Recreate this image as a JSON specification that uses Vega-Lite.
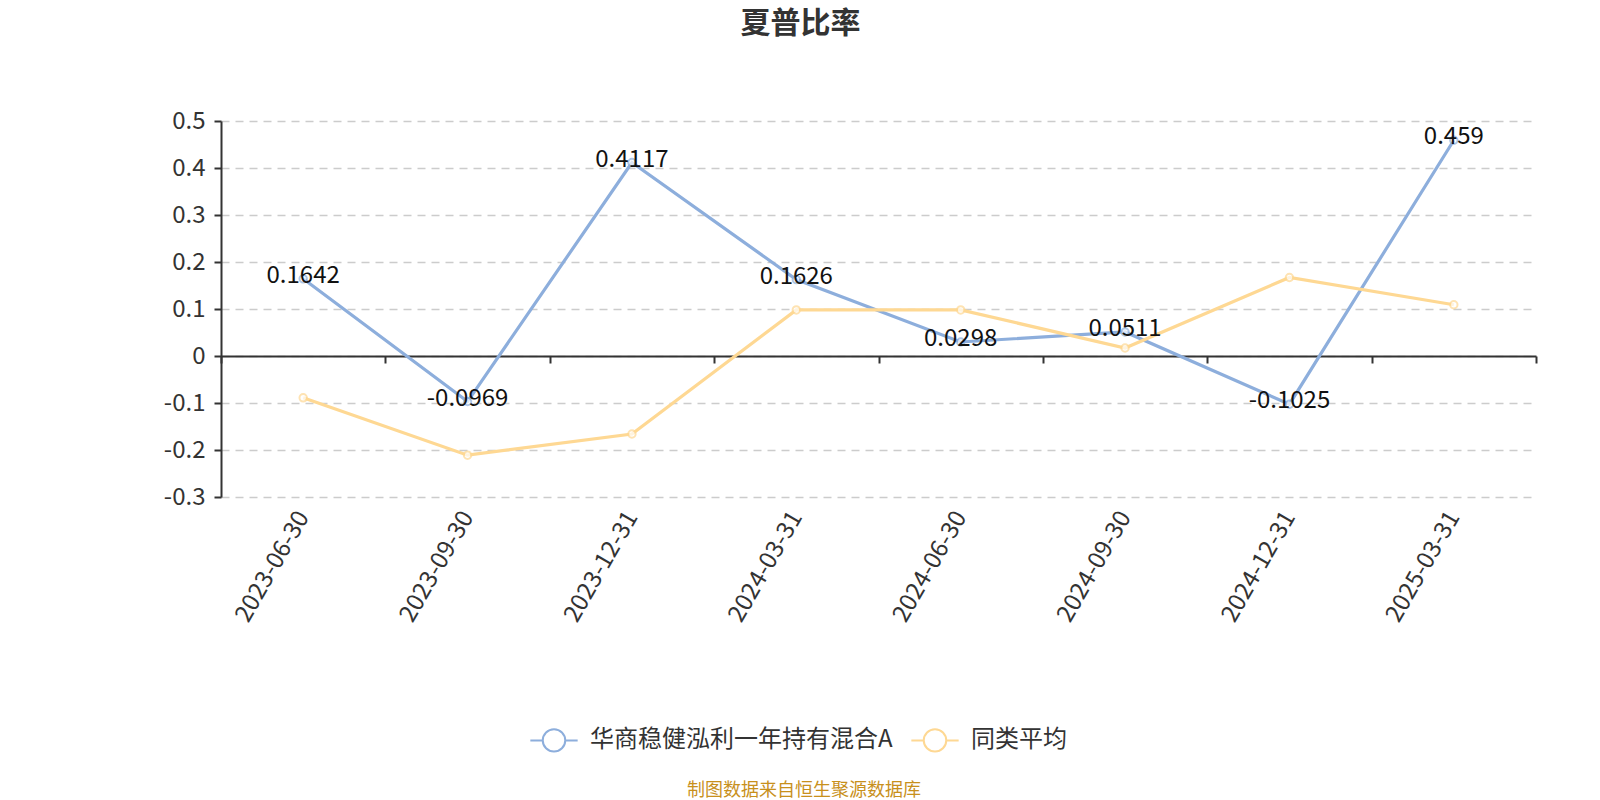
{
  "$schema": "https://vega.github.io/schema/vega-lite/v6.json",
  "width": 1315,
  "height": 376,
  "autosize": {"type": "none"},
  "padding": {"left": 221, "top": 121, "right": 64, "bottom": 303},
  "background": "white",
  "title": {
    "text": "夏普比率",
    "fontSize": 30,
    "fontWeight": "bold",
    "color": "#333333",
    "font": "Noto Sans CJK SC",
    "offset": 70,
    "dx": -78
  },
  "config": {
    "view": {"stroke": null},
    "font": "Noto Sans CJK SC"
  },
  "data": {
    "values": [
      {"date": "2023-06-30", "series": "华商稳健泓利一年持有混合A", "value": 0.1642},
      {"date": "2023-09-30", "series": "华商稳健泓利一年持有混合A", "value": -0.0969},
      {"date": "2023-12-31", "series": "华商稳健泓利一年持有混合A", "value": 0.4117},
      {"date": "2024-03-31", "series": "华商稳健泓利一年持有混合A", "value": 0.1626},
      {"date": "2024-06-30", "series": "华商稳健泓利一年持有混合A", "value": 0.0298},
      {"date": "2024-09-30", "series": "华商稳健泓利一年持有混合A", "value": 0.0511},
      {"date": "2024-12-31", "series": "华商稳健泓利一年持有混合A", "value": -0.1025},
      {"date": "2025-03-31", "series": "华商稳健泓利一年持有混合A", "value": 0.459},
      {"date": "2023-06-30", "series": "同类平均", "value": -0.089},
      {"date": "2023-09-30", "series": "同类平均", "value": -0.211},
      {"date": "2023-12-31", "series": "同类平均", "value": -0.166},
      {"date": "2024-03-31", "series": "同类平均", "value": 0.098},
      {"date": "2024-06-30", "series": "同类平均", "value": 0.098},
      {"date": "2024-09-30", "series": "同类平均", "value": 0.017},
      {"date": "2024-12-31", "series": "同类平均", "value": 0.167},
      {"date": "2025-03-31", "series": "同类平均", "value": 0.109}
    ]
  },
  "encoding": {
    "x": {
      "field": "date",
      "type": "ordinal",
      "title": null,
      "scale": {"paddingInner": 0, "paddingOuter": 0},
      "axis": {
        "offset": -141,
        "domainColor": "#333333",
        "domainWidth": 2,
        "tickColor": "#333333",
        "tickWidth": 2,
        "tickSize": 7,
        "tickBand": "extent",
        "labelAngle": -60,
        "labelAlign": "right",
        "labelBaseline": "middle",
        "labelPadding": 150,
        "labelFontSize": 24,
        "labelColor": "#333333",
        "grid": false
      }
    },
    "y": {
      "field": "value",
      "type": "quantitative",
      "title": null,
      "scale": {"domain": [-0.3, 0.5], "nice": false, "zero": false},
      "axis": {
        "values": [-0.3, -0.2, -0.1, 0, 0.1, 0.2, 0.3, 0.4, 0.5],
        "labelExpr": "'' + round(datum.value * 10) / 10",
        "labelFontSize": 24,
        "labelColor": "#333333",
        "labelPadding": 9,
        "domainColor": "#333333",
        "domainWidth": 2,
        "tickColor": "#333333",
        "tickWidth": 2,
        "tickSize": 7,
        "gridColor": "#cccccc",
        "gridDash": [8, 6],
        "gridWidth": 1.5
      }
    }
  },
  "layer": [
    {
      "mark": {"type": "line", "strokeWidth": 3.2},
      "encoding": {
        "color": {
          "field": "series",
          "type": "nominal",
          "scale": {
            "domain": ["华商稳健泓利一年持有混合A", "同类平均"],
            "range": ["#8daedc", "#fed893"]
          },
          "legend": {
            "title": "制图数据来自恒生聚源数据库",
            "titleOrient": "bottom",
            "titleAnchor": "middle",
            "titleColor": "#c8901c",
            "titleFontSize": 18,
            "titleFontWeight": "normal",
            "titlePadding": 26,
            "titleLimit": 0,
            "labelLimit": 0,
            "orient": "none",
            "legendX": 320,
            "legendY": 606,
            "direction": "horizontal",
            "symbolType": "M -2 0 L -0.95 0 M 0.95 0 L 2 0 M 0.95 0 A 0.95 0.95 0 1 1 -0.95 0 A 0.95 0.95 0 1 1 0.95 0",
            "symbolSize": 560,
            "symbolStrokeWidth": 2,
            "symbolFillColor": "white",
            "labelFontSize": 24,
            "labelColor": "#333333",
            "labelOffset": 23,
            "columnPadding": 14
          }
        }
      }
    },
    {
      "mark": {"type": "point", "shape": "circle", "filled": true, "fill": "white", "size": 55, "strokeWidth": 2},
      "encoding": {
        "stroke": {"field": "series", "type": "nominal", "legend": null,
          "scale": {"domain": ["华商稳健泓利一年持有混合A", "同类平均"], "range": ["#8daedc", "#fed893"]}}
      }
    },
    {
      "transform": [{"filter": "datum.series == '华商稳健泓利一年持有混合A'"}],
      "mark": {"type": "text", "fontSize": 24, "color": "#111111", "baseline": "middle", "align": "center", "dy": -3},
      "encoding": {
        "text": {"field": "value", "type": "nominal"}
      }
    }
  ]
}
